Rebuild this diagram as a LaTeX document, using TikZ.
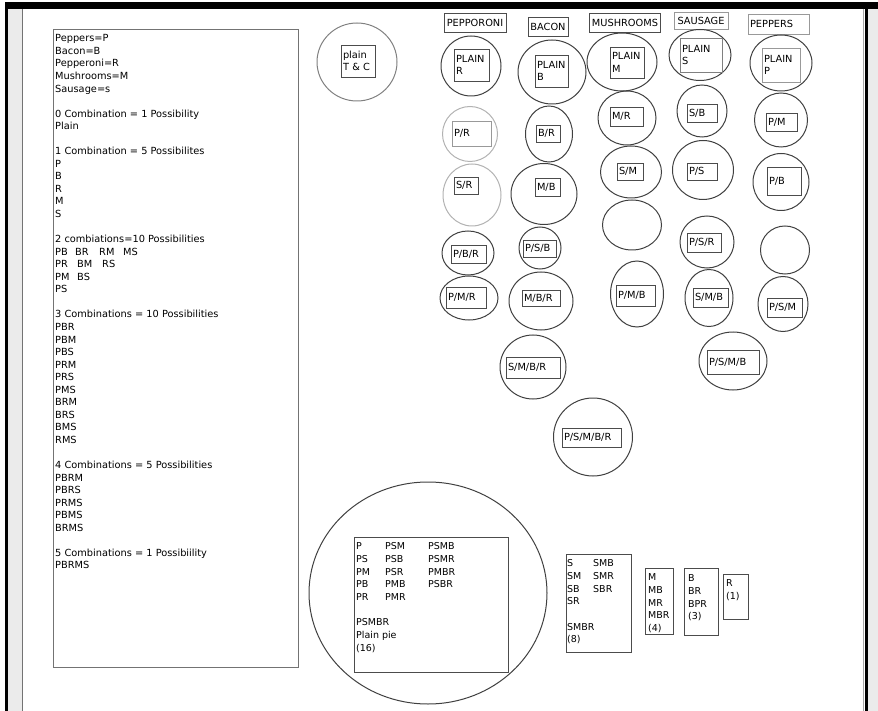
\documentclass[tikz,border=0pt]{standalone}
\usepackage{fontspec}
\setmainfont{DejaVu Sans}
\usetikzlibrary{shapes.geometric}

\begin{document}
\begin{tikzpicture}[x=1pt, y=-1pt, every node/.style={font=\fontsize{9.8}{12.55}\selectfont, text=black}]
  \tikzset{
    pie/.style={draw=black!75, line width=1pt, ellipse, inner sep=0pt},
    tag/.style={draw=black!70, line width=0.9pt, rectangle, inner xsep=2pt, inner ysep=0pt, align=left},
    greytag/.style={tag, draw=black!40},
    listing/.style={anchor=north west, inner sep=0pt, align=left, font=\fontsize{9.5}{12.7}\selectfont}
  }
  \useasboundingbox (0,0) rectangle (878,711);

  % window frame
  \fill[black!8] (7.5,9) rectangle (22,711);
  \fill[black!8] (868,9) rectangle (878,711);
  \fill[black] (5,2) rectangle (878,9);
  \fill[black] (5,2) rectangle (7.5,711);
  \fill[black] (865,9) rectangle (868,711);
  \draw[black!55, line width=0.8pt] (22.5,9) -- (22.5,711);
  \draw[black!35, line width=0.6pt] (863.5,9) -- (863.5,711);

  % legend on the left
  \node[draw=black!55, line width=1.2pt, minimum width=245, minimum height=638, anchor=north west, inner sep=0pt] (legend) at (53,29) {};
  \node[anchor=north west, inner sep=0pt, align=left] (legendtext) at (55,34.5) {Peppers=P\\
    Bacon=B\\
    Pepperoni=R\\
    Mushrooms=M\\
    Sausage=s\\[12.55pt]
    0 Combination = 1 Possibility\\
    Plain\\[12.55pt]
    1 Combination = 5 Possibilites\\
    P\\ B\\ R\\ M\\ S\\[12.55pt]
    2 combiations=10 Possibilities\\
    \makebox[20pt][l]{PB}\makebox[24pt][l]{BR}\makebox[24pt][l]{RM}MS\\
    \makebox[22pt][l]{PR}\makebox[25pt][l]{BM}RS\\
    \makebox[22pt][l]{PM}BS\\
    PS\\[12.55pt]
    3 Combinations = 10 Possibilities\\
    PBR\\ PBM\\ PBS\\ PRM\\ PRS\\ PMS\\ BRM\\ BRS\\ BMS\\ RMS\\[12.55pt]
    4 Combinations = 5 Possibilities\\
    PBRM\\ PBRS\\ PRMS\\ PBMS\\ BRMS\\[12.55pt]
    5 Combinations = 1 Possibiility\\
    PBRMS};

  % column headers
  \node[tag, minimum width=62, minimum height=19] (hdrR) at (475,22.5) {PEPPORONI};
  \node[tag, minimum width=40, minimum height=19] (hdrB) at (548,26.5) {BACON};
  \node[tag, minimum width=70, minimum height=19] (hdrM) at (625,22.5) {MUSHROOMS};
  \node[greytag, minimum width=54, minimum height=17] (hdrS) at (701,20.5) {SAUSAGE};
  \node[greytag, minimum width=61, minimum height=20, text width=57pt] (hdrP) at (778.5,24) {PEPPERS};

  % pies
  \foreach \id/\cx/\cy/\rx/\ry/\col in {plainTC/357/62/40/39/black!50,
      plainR/471/66/30/30/black!75, PR/470/134/27.5/27.5/black!30, SR/472/195/29/31/black!30,
      PBR/468/253/26/22/black!75, PMR/469/298/29/22/black!75,
      plainB/552/72/34/32/black!75, BR/549/134/23.5/28/black!75, MB/544/194/33/30.5/black!75,
      PSB/540/248/21/21/black!75, MBR/541/301/32/29/black!75, SMBR/533/367/33/32/black!75,
      PSMBR/593/437/39.5/39/black!75,
      plainM/622/62/35/29/black!75, MR/627/118/29/27/black!75, SM/631/172/30.5/26/black!75,
      emptyM/632/225/29.5/25/black!75, PMB/637/294/26.5/33/black!75,
      plainS/700/55/31/25.5/black!75, SB/702/111/25/26/black!75, PS/703/170/30.5/29.5/black!75,
      PSR/707/242/27/26/black!75, SMB/709/298/24/28.5/black!75, PSMB/733/361/34/29/black!75,
      plainP/781/63/31/28/black!75, PM/781/120/26.5/27/black!75, PB/781/182/28/28.5/black!75,
      emptyP/785/250/24.5/24/black!75, PSM/783/304/25/27.5/black!75}
    \node[pie, draw=\col, minimum width=2*\rx, minimum height=2*\ry] (c\id) at (\cx,\cy) {};

  % labels inside the pies
  \foreach \id/\bx/\by/\bw/\bh/\col/\txt in {plainTC/358/61/34/32/black!70/{plain\\T \& C},
      plainR/471.5/65/35/32/black!70/{PLAIN\\R}, PR/471.5/133.5/39/25/black!40/{P/R},
      SR/466/185.5/24/17/black!70/{S/R}, PBR/468.5/254/35/18/black!70/{P/B/R},
      PMR/466/297.5/40/21/black!70/{P/M/R},
      plainB/551.5/71/33/32/black!70/{PLAIN\\B}, BR/548/133.5/24/17/black!70/{B/R},
      MB/547.5/187/25/18/black!70/{M/B}, PSB/539.5/248.5/33/17/black!70/{P/S/B},
      MBR/541/298/38/16/black!70/{M/B/R}, SMBR/533/367.5/54/21/black!70/{S/M/B/R},
      PSMBR/591.5/437.5/59/19/black!70/{P/S/M/B/R},
      plainM/627/62.5/34/31/black!70/{PLAIN\\M}, MR/626.5/116.5/33/19/black!70/{M/R},
      SM/630/171.5/26/17/black!70/{S/M}, PMB/635.5/295.5/39/21/black!70/{P/M/B},
      plainS/701/55/42/34/black!50/{PLAIN\\S}, SB/702/113/30/18/black!70/{S/B},
      PS/702/171.5/30/17/black!70/{P/S}, PSR/704/242.5/34/19/black!70/{P/S/R},
      SMB/710.5/297.5/35/19/black!70/{S/M/B}, PSMB/733/362/52/24/black!70/{P/S/M/B},
      plainP/781/65/38/34/black!40/{PLAIN\\P}, PM/781.5/122/31/18/black!70/{P/M},
      PB/784/181/34/28/black!70/{P/B}, PSM/784.5/307.5/35/19/black!70/{P/S/M}}
  {
    \pgfmathsetmacro\tw{\bw-4}
    \node[tag, draw=\col, minimum width=\bw, minimum height=\bh, text width=\tw pt] (t\id) at (\bx,\by) {\txt};
  }

  % the big pie at the bottom
  \node[pie, minimum width=238, minimum height=222] (bigpie) at (428,593) {};
  \node[tag, anchor=north west, minimum width=154, minimum height=135] (bigbox) at (354,537) {};
  \node[listing] (biglist) at (356,542.5) {\makebox[29pt][l]{P}\makebox[43pt][l]{PSM}PSMB\\
    \makebox[29pt][l]{PS}\makebox[43pt][l]{PSB}PSMR\\
    \makebox[29pt][l]{PM}\makebox[43pt][l]{PSR}PMBR\\
    \makebox[29pt][l]{PB}\makebox[43pt][l]{PMB}PSBR\\
    \makebox[29pt][l]{PR}PMR\\[12.7pt]
    PSMBR\\
    Plain pie\\
    (16)};

  % counts per topping
  \node[tag, anchor=north west, minimum width=65, minimum height=98] (box8) at (566,554) {};
  \node[listing] (list8) at (567,559.5) {\makebox[26pt][l]{S}SMB\\
    \makebox[26pt][l]{SM}SMR\\
    \makebox[26pt][l]{SB}SBR\\
    SR\\[12.7pt]
    SMBR\\
    (8)};
  \node[tag, anchor=north west, minimum width=28, minimum height=66] (box4) at (645,568) {};
  \node[listing] (list4) at (648,573.5) {M\\ MB\\ MR\\ MBR\\ (4)};
  \node[tag, anchor=north west, minimum width=34, minimum height=67] (box3) at (684,568) {};
  \node[listing] (list3) at (688,574.5) {B\\ BR\\ BPR\\ (3)};
  \node[tag, anchor=north west, minimum width=25, minimum height=45] (box1) at (723,574) {};
  \node[listing] (list1) at (726,579.5) {R\\ (1)};
\end{tikzpicture}
\end{document}
